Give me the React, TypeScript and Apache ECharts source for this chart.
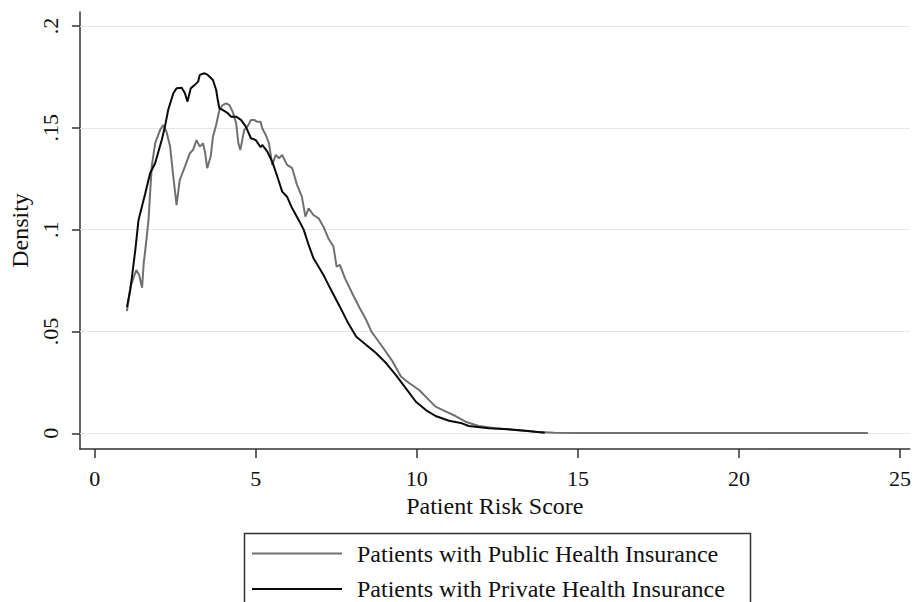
import React, { useEffect, useRef } from 'react';
import * as echarts from 'echarts';

// Tick values / labels
const xTickValues = [0, 5, 10, 15, 20, 25];
const yTickValues = [0, 0.05, 0.1, 0.15, 0.2];
const yTickLabels = ['0', '.05', '.1', '.15', '.2'];

const xTitle = 'Patient Risk Score';
const yTitle = 'Density';
const seriesNames = [
  'Patients with Public Health Insurance',
  'Patients with Private Health Insurance',
];

// Public health insurance density (grey line)
const publicX = [
  1.0, 1.11, 1.29, 1.38, 1.47, 1.52, 1.57, 1.67, 1.77, 1.875, 2.03, 2.13, 2.23, 2.34, 2.44, 2.54,
  2.64, 2.8, 2.95, 3.05, 3.16, 3.26, 3.36, 3.43, 3.49, 3.6, 3.67, 3.77, 3.87, 3.97, 4.08, 4.18,
  4.28, 4.39, 4.46, 4.52, 4.64, 4.74, 4.85, 4.95, 5.05, 5.15, 5.2, 5.31, 5.41, 5.51, 5.62, 5.72,
  5.82, 5.97, 6.13, 6.28, 6.43, 6.54, 6.64, 6.79, 6.95, 7.1, 7.25, 7.41, 7.51, 7.61, 7.77, 8.02,
  8.23, 8.43, 8.59, 8.74, 9.0, 9.25, 9.51, 9.77, 10.07, 10.38, 10.58, 10.89, 11.2, 11.51, 11.92,
  12.43, 13.04, 13.66, 14.27, 15, 17, 20, 24,
];
const publicY = [
  0.06, 0.072, 0.0802, 0.0778, 0.0715, 0.0835, 0.09, 0.1048, 0.131, 0.1424, 0.149, 0.1514, 0.148,
  0.1408, 0.126, 0.1121, 0.1244, 0.131, 0.1375, 0.1391, 0.144, 0.1408, 0.1424, 0.1375, 0.1302,
  0.1359, 0.1457, 0.1514, 0.1588, 0.1612, 0.162, 0.1612, 0.158, 0.1523, 0.1424, 0.1391, 0.149,
  0.1506, 0.1539, 0.1539, 0.153, 0.153, 0.1498, 0.1465, 0.1424, 0.1318, 0.1367, 0.1351, 0.1367,
  0.1318, 0.1302, 0.122, 0.1162, 0.1064, 0.1105, 0.1072, 0.1056, 0.1015, 0.0958, 0.0917, 0.0818,
  0.0827, 0.0761, 0.0679, 0.0614, 0.0556, 0.0499, 0.0467, 0.0409, 0.0352, 0.0278, 0.0246, 0.0213,
  0.0163, 0.0131, 0.0108, 0.0085, 0.0057, 0.0036, 0.0025, 0.0016, 0.0008, 0.0003, 0.0002, 0.0001,
  0.0001, 0.0001,
];

// Private health insurance density (black line)
const privateX = [
  1.0, 1.11, 1.26, 1.36, 1.57, 1.72, 1.875, 2.08, 2.18, 2.28, 2.44, 2.54, 2.7, 2.8, 2.88, 2.98,
  3.1, 3.21, 3.26, 3.41, 3.51, 3.67, 3.77, 3.82, 3.87, 3.97, 4.13, 4.23, 4.39, 4.54, 4.69, 4.85,
  5.0, 5.15, 5.2, 5.36, 5.51, 5.67, 5.82, 5.97, 6.13, 6.33, 6.49, 6.64, 6.79, 6.95, 7.1, 7.31,
  7.61, 7.87, 8.12, 8.43, 8.74, 9.05, 9.35, 9.66, 9.97, 10.28, 10.58, 11.0, 11.4, 11.61, 12.23,
  12.84, 13.46, 13.97,
];
const privateY = [
  0.062, 0.071, 0.09, 0.1048, 0.1179, 0.1277, 0.1326, 0.144, 0.1506, 0.1588, 0.167, 0.1694,
  0.1697, 0.167, 0.1629, 0.1694, 0.171, 0.1727, 0.176, 0.1768, 0.176, 0.1735, 0.1686, 0.1637,
  0.1596, 0.1588, 0.1572, 0.1555, 0.1555, 0.1539, 0.1506, 0.1449, 0.144, 0.1405, 0.1416, 0.1383,
  0.1334, 0.126, 0.1187, 0.1162, 0.1105, 0.1048, 0.0999, 0.0925, 0.086, 0.0818, 0.0778, 0.0712,
  0.0622, 0.054, 0.0474, 0.0434, 0.0393, 0.0344, 0.0286, 0.0221, 0.0155, 0.0114, 0.0085, 0.0062,
  0.0049, 0.0036, 0.0025, 0.002, 0.0011, 0.0003,
];

const zip = (xs: number[], ys: number[]) => xs.map((x, i) => [x, ys[i]]);

export default function App() {
  const ref = useRef<HTMLDivElement>(null);
  useEffect(() => {
    if (!ref.current) return;
    const chart = echarts.init(ref.current, null, { renderer: 'svg' });
    const font = '"Liberation Serif", "Times New Roman", serif';
    const ink = '#111';
    chart.setOption({
      animation: false,
      backgroundColor: '#fff',
      textStyle: { fontFamily: font, color: ink },
      grid: { left: 74, right: 2, top: 12, bottom: 153, containLabel: false },
      xAxis: {
        type: 'value',
        min: -0.46,
        max: 25.3,
        name: xTitle,
        nameLocation: 'middle',
        nameGap: 42,
        nameTextStyle: { fontSize: 24, color: ink, fontFamily: font },
        axisLine: { show: true, onZero: false, lineStyle: { color: '#333', width: 1.5 } },
        axisTick: { show: true, customValues: xTickValues, length: 9, lineStyle: { color: '#333', width: 1.5 } },
        axisLabel: { customValues: xTickValues, fontSize: 22, margin: 18, color: ink, fontFamily: font },
        splitLine: { show: false },
      },
      yAxis: {
        type: 'value',
        min: -0.0077,
        max: 0.2069,
        name: yTitle,
        nameLocation: 'middle',
        nameGap: 46,
        nameRotate: 90,
        nameTextStyle: { fontSize: 24, color: ink, fontFamily: font },
        axisLine: { show: true, onZero: false, lineStyle: { color: '#333', width: 1.5 } },
        axisTick: { show: true, customValues: yTickValues, length: 8, lineStyle: { color: '#333', width: 1.5 } },
        axisLabel: {
          customValues: yTickValues,
          rotate: 90,
          fontSize: 22,
          margin: 18,
          color: ink,
          fontFamily: font,
          formatter: (v: number) => {
            const i = yTickValues.findIndex((t) => Math.abs(t - v) < 1e-9);
            return i >= 0 ? yTickLabels[i] : '';
          },
        },
        splitLine: { show: false },
      },
      legend: {
        orient: 'vertical',
        left: 242,
        top: 541.5,
        padding: [0, 0, 0, 10],
        itemWidth: 90,
        itemHeight: 2,
        itemGap: 11.5,
        icon: 'rect',
        textStyle: { fontSize: 24, color: ink, fontFamily: font, padding: [0, 0, 0, 10] },
        data: seriesNames,
      },
      graphic: [
        {
          type: 'rect',
          left: 242,
          top: 531,
          shape: { width: 506, height: 120 },
          style: { fill: 'none', stroke: '#333', lineWidth: 1.5 },
          silent: true,
        },
      ],
      series: [
        {
          name: seriesNames[0],
          type: 'line',
          data: zip(publicX, publicY),
          showSymbol: false,
          symbol: 'none',
          lineStyle: { color: '#707070', width: 2 },
          itemStyle: { color: '#707070' },
          z: 3,
          markLine: {
            silent: true,
            symbol: 'none',
            z: 1,
            label: { show: false },
            lineStyle: { color: '#e6e6e6', width: 1.2, type: 'solid' },
            emphasis: { disabled: true },
            data: yTickValues.map((v) => ({ yAxis: v })),
          },
        },
        {
          name: seriesNames[1],
          type: 'line',
          data: zip(privateX, privateY),
          showSymbol: false,
          symbol: 'none',
          lineStyle: { color: '#0a0a0a', width: 2 },
          itemStyle: { color: '#0a0a0a' },
          z: 4,
        },
      ],
    });
    return () => chart.dispose();
  }, []);
  return <div ref={ref} style={{ position: 'absolute', left: 0, top: 0, width: 914, height: 602 }} />;
}
